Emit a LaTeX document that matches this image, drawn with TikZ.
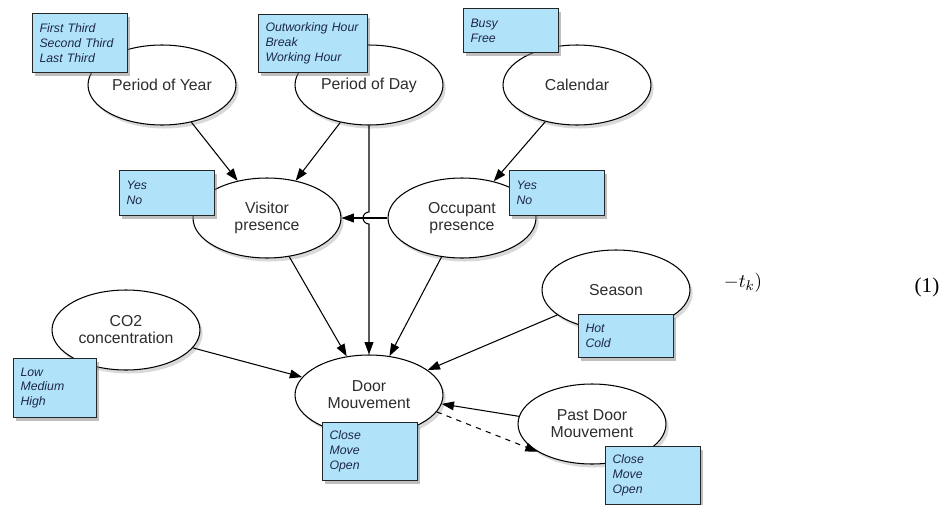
\documentclass[tikz,border=0pt]{standalone}
\usepackage{amsmath}
\usepackage{fontspec}
\usetikzlibrary{shapes.geometric,shadows,arrows.meta}
\newfontfamily\diagfont{Liberation Sans}
\newfontfamily\eqfont{Liberation Serif}
\definecolor{boxblue}{RGB}{176,226,250}
\definecolor{boxtext}{RGB}{30,40,70}
\definecolor{nodetext}{RGB}{45,45,45}
\tikzset{
  var/.style={ellipse,draw=black,line width=0.6pt,fill=white,minimum width=2.96cm,minimum height=1.6cm,inner sep=0pt,align=center,text=nodetext,font=\diagfont\fontsize{9}{9.7}\selectfont,drop shadow={shadow xshift=1.5pt,shadow yshift=-2pt,opacity=0.3}},
  vals/.style={rectangle,draw=black!85,line width=0.6pt,fill=boxblue,anchor=north west,inner xsep=0.14cm,inner ysep=0pt,text width=1.62cm,align=left,text=boxtext,font=\diagfont\itshape\fontsize{7}{8.5}\selectfont,drop shadow={shadow xshift=1.5pt,shadow yshift=-2pt,opacity=0.5}},
  dep/.style={-{Triangle[length=7pt,width=5pt]},line width=0.6pt}
}
\begin{document}
\begin{tikzpicture}[x=0.02cm,y=-0.02cm]
\useasboundingbox (0,0) rectangle (947,504);
\node[var] (year) at (162,85) {Period of Year};
\node[var] (day) at (369,85) {Period of Day};
\node[var] (cal) at (577,85) {Calendar};
\node[var] (visit) at (267,218) {Visitor\\presence};
\node[var] (occup) at (462,218) {Occupant\\presence};
\node[var] (co2) at (126,330) {CO2\\concentration};
\node[var] (season) at (616,290) {Season};
\node[var] (door) at (369,395) {Door\\Mouvement};
\node[var] (past) at (592,424) {Past Door\\Mouvement};

\draw[dep] (year) -- (visit);
\draw[dep] (day) -- (visit);
\draw[dep] (cal) -- (occup);
\draw[dep] (occup) -- (visit);
\coordinate (hop) at (369,212);
\draw[dep] (day) -- (hop) arc[start angle=90,end angle=270,radius=0.12cm] -- (door);
\draw[dep] (visit) -- (door);
\draw[dep] (occup) -- (door);
\draw[dep] (co2) -- (door);
\draw[dep] (season) -- (door);
\draw[dep] (past.174) -- (door.-7);
\draw[dep,dashed] (door.-14) -- (past.207);

\node[vals,minimum height=1.18cm] (yearvals) at (32,13) {First Third\\Second Third\\Last Third};
\node[vals,minimum height=1.16cm,text width=1.90cm] (dayvals) at (258,14) {Outworking Hour\\Break\\Working Hour};
\node[vals,minimum height=0.88cm] (calvals) at (463,8) {Busy\\Free};
\node[vals,minimum height=0.9cm] (visitvals) at (119,170) {Yes\\No};
\node[vals,minimum height=0.9cm] (occupvals) at (509,170) {Yes\\No};
\node[vals,minimum height=1.18cm,text width=1.38cm] (co2vals) at (13,358) {Low\\Medium\\High};
\node[vals,minimum height=0.86cm] (seasonvals) at (578,314) {Hot\\Cold};
\node[vals,minimum height=1.16cm] (doorvals) at (322,422) {Close\\Move\\Open};
\node[vals,minimum height=1.16cm] (pastvals) at (605,446) {Close\\Move\\Open};

\node[font=\fontsize{11}{13}\selectfont] (eqpart) at (743,283) {$-t_k)$};
\node[font=\eqfont\fontsize{12}{14}\selectfont] (eqnum) at (927,287) {(1)};
\end{tikzpicture}
\end{document}
